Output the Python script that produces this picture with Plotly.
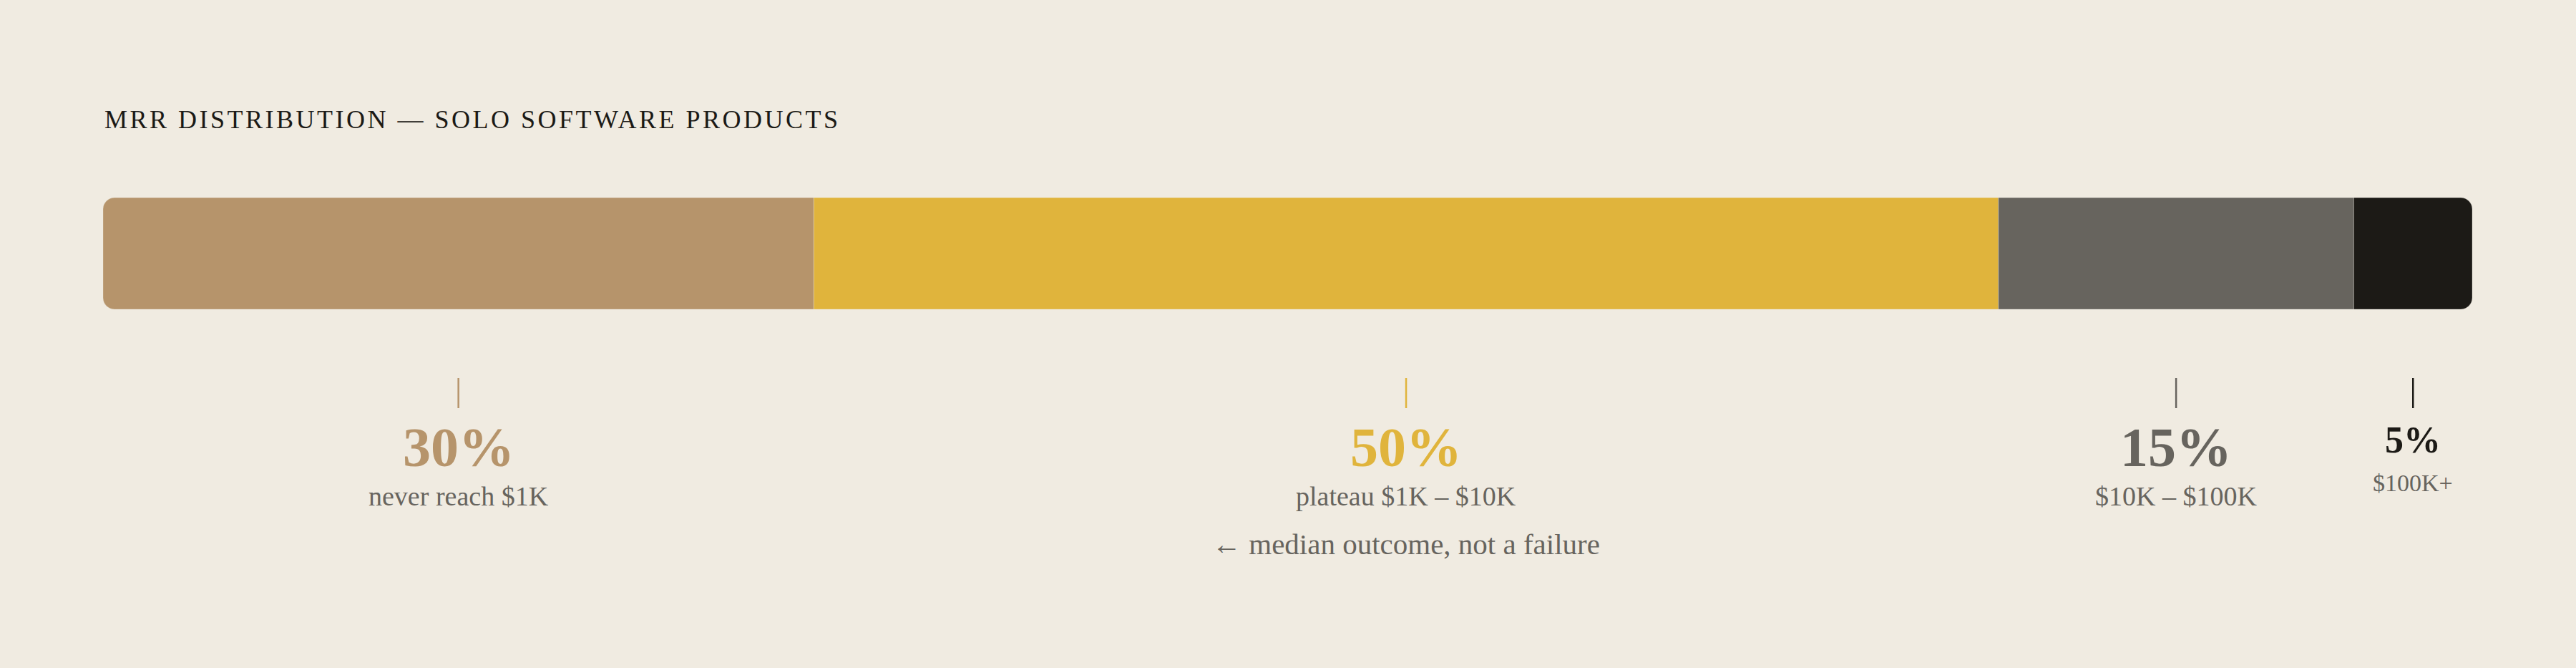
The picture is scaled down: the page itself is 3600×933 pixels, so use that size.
import plotly.graph_objects as go

# data
title = "MRR DISTRIBUTION — SOLO SOFTWARE PRODUCTS"
segments = ["never reach", "plateau", "growth", "top"]
shares = [30, 50, 15, 5]
pct_labels = ["30%", "50%", "15%", "5%"]
range_labels = ["never reach $1K", "plateau $1K – $10K", "$10K – $100K", "$100K+"]
note = "← median outcome, not a failure"

# style
colors = ["#B6946B", "#E0B43C", "#67645E", "#1C1A16"]
pct_sizes = [78, 78, 78, 52]
sub_sizes = [38, 38, 38, 34]
pct_mid = [624, 624, 624, 614]   # pixel rows (from top)
sub_mid = [693, 693, 693, 674]
bg = "#F0EBE1"
muted = "#67645E"
ink = "#1C1A16"
serif = "Liberation Serif"
W, H = 3600, 933


def py(px):
    # pixel row from top -> paper y
    return 1 - px / H


# The first segment is drawn as the negative side of a relative stack so
# that plotly rounds only the two outer ends of the whole bar.
offset = shares[0]
starts = []
acc = 0
for s in shares:
    starts.append(acc - offset)
    acc += s
centers = [b + s / 2 for b, s in zip(starts, shares)]

fig = go.Figure()
for i, (name, s, c) in enumerate(zip(segments, shares, colors)):
    fig.add_trace(go.Bar(
        y=[0], x=[-s if i == 0 else s], orientation="h", width=1,
        marker=dict(color=c, line=dict(color="rgba(240,235,225,0.3)", width=1)),
        name=name, showlegend=False, hoverinfo="skip",
    ))

annotations = [dict(
    text=title, xref="paper", yref="paper", x=0, y=py(167),
    xanchor="left", yanchor="middle", showarrow=False,
    font=dict(family=serif, size=36, color=ink),
)]
shapes = []
for i, cx in enumerate(centers):
    shapes.append(dict(type="line", xref="x", yref="paper", x0=cx, x1=cx,
                       y0=py(570), y1=py(528),
                       line=dict(color=colors[i], width=2.5)))
    annotations.append(dict(
        text=pct_labels[i], xref="x", yref="paper", x=cx, y=py(pct_mid[i]),
        xanchor="center", yanchor="middle", showarrow=False,
        font=dict(family=serif, size=pct_sizes[i], color=colors[i], weight="bold"),
    ))
    annotations.append(dict(
        text=range_labels[i], xref="x", yref="paper", x=cx, y=py(sub_mid[i]),
        xanchor="center", yanchor="middle", showarrow=False,
        font=dict(family=serif, size=sub_sizes[i], color=muted),
    ))

annotations.append(dict(
    text=note, xref="x", yref="paper", x=centers[1], y=py(760),
    xanchor="center", yanchor="middle", showarrow=False,
    font=dict(family=serif, size=41, color=muted),
))

fig.update_layout(
    width=W, height=H,
    margin=dict(l=144, r=145, t=0, b=0),
    paper_bgcolor=bg, plot_bgcolor=bg,
    barmode="relative", barcornerradius=16,
    xaxis=dict(range=[-offset, sum(shares) - offset], visible=False, fixedrange=True),
    yaxis=dict(range=[-0.5, 0.5], domain=[py(432), py(276)], visible=False, fixedrange=True),
    annotations=annotations, shapes=shapes,
)

# page without the default body margin, and a tracked-out title that keeps its left edge
post = """
document.body.style.margin = '0';
document.body.style.background = '%s';
var gd = document.getElementById('{plot_id}');
gd.querySelectorAll('.annotation-text').forEach(function (t) {
  if (t.textContent.indexOf('MRR') === 0) {
    var left0 = t.getBBox().x;
    t.style.letterSpacing = '3.5px';
    var left1 = t.getBBox().x;
    t.setAttribute('x', parseFloat(t.getAttribute('x') || 0) + (left0 - left1));
  }
});
""" % bg

fig.write_html("out.html", post_script=post, config={"displayModeBar": False})
